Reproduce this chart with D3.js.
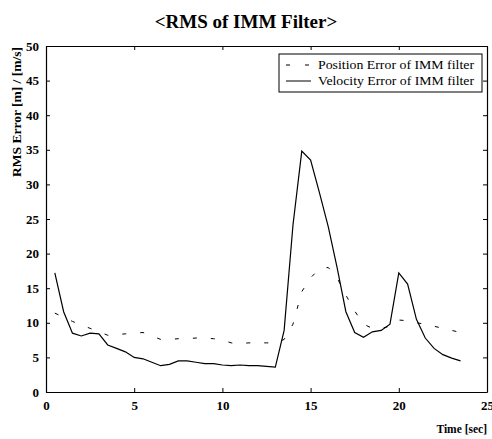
<!DOCTYPE html>
<html><head><meta charset="utf-8">
<script src="https://cdn.jsdelivr.net/npm/d3@7"></script>
<style>body{margin:0;background:#fff}</style>
</head><body>
<svg id="c" width="492" height="439"></svg>
<script>
const times = [0.5,1,1.5,2,2.5,3,3.5,4,4.5,5,5.5,6,6.5,7,7.5,8,8.5,9,9.5,10,10.5,11,11.5,12,12.5,13,13.5,14,14.5,15,15.5,16,16.5,17,17.5,18,18.5,19,19.5,20,20.5,21,21.5,22,22.5,23,23.5];
const positionErr = [11.4,10.8,10.2,9.7,9.2,8.7,8.2,8.3,8.4,8.5,8.6,8.1,7.6,7.6,7.7,7.7,7.8,7.8,7.7,7.5,7.1,7.0,7.1,7.1,7.1,7.1,7.6,9.8,14.5,16.5,17.8,18.0,16.5,14.0,11.7,9.8,9.2,9.2,9.5,10.4,10.3,10.0,9.8,9.5,9.2,8.9,8.6];
const velocityErr = [17.2,11.6,8.5,8.1,8.5,8.4,6.8,6.3,5.8,5.0,4.8,4.3,3.8,4.0,4.5,4.5,4.3,4.1,4.1,3.9,3.8,3.9,3.8,3.8,3.7,3.6,8.9,24.1,34.8,33.5,28.8,23.9,18.0,11.6,8.6,7.9,8.7,8.9,9.8,17.2,15.6,10.5,7.8,6.3,5.4,4.9,4.5];
const xTicks = [0,5,10,15,20,25];
const yTicks = [0,5,10,15,20,25,30,35,40,45,50];
const seriesNames = ["Position Error of IMM filter","Velocity Error of IMM filter"];

const svg = d3.select("#c");
const L=46, R=487, T=46, B=392;
const x = d3.scaleLinear().domain([0,25]).range([L,R]);
const y = d3.scaleLinear().domain([0,50]).range([B,T]);
const serif = "'Liberation Serif','Times New Roman',serif";

svg.append("text").attr("x",246).attr("y",28).attr("text-anchor","middle")
  .attr("font-family",serif).attr("font-weight","bold").attr("font-size",19).text("<RMS of IMM Filter>");

// axes with inward ticks
const gx = svg.append("g").attr("transform",`translate(0,${B})`)
  .call(d3.axisBottom(x).tickValues(xTicks).tickSizeInner(-4).tickSizeOuter(0).tickPadding(9));
const gy = svg.append("g").attr("transform",`translate(${L},0)`)
  .call(d3.axisLeft(y).tickValues(yTicks).tickSizeInner(-4).tickSizeOuter(0).tickPadding(7));
const gt = svg.append("g").attr("transform",`translate(0,${T})`)
  .call(d3.axisTop(x).tickValues(xTicks).tickSizeInner(-4).tickSizeOuter(0).tickFormat(""));
const gr = svg.append("g").attr("transform",`translate(${R},0)`)
  .call(d3.axisRight(y).tickValues(yTicks).tickSizeInner(-4).tickSizeOuter(0).tickFormat(""));
[gx,gy,gt,gr].forEach(g=>{
  g.selectAll("path").attr("stroke","#000").attr("stroke-width",1.2);
  g.selectAll("line").attr("stroke","#000");
  g.selectAll("text").attr("font-family",serif).attr("font-weight","bold").attr("font-size",13).attr("fill","#000");
});

const line = d3.line().x((d,i)=>x(times[i])).y(d=>y(d));
svg.append("path").datum(positionErr).attr("d",line).attr("fill","none")
  .attr("stroke","#000").attr("stroke-width",1).attr("stroke-dasharray","4,14");
svg.append("path").datum(velocityErr).attr("d",line).attr("fill","none")
  .attr("stroke","#000").attr("stroke-width",1.2);

// legend
const lg = svg.append("g");
lg.append("rect").attr("x",279).attr("y",54).attr("width",203).attr("height",38)
  .attr("fill","#fff").attr("stroke","#000").attr("stroke-width",1);
lg.append("line").attr("x1",286).attr("x2",311).attr("y1",65).attr("y2",65)
  .attr("stroke","#000").attr("stroke-dasharray","4,15").attr("stroke-dashoffset",0);
lg.append("line").attr("x1",286).attr("x2",311).attr("y1",81).attr("y2",81).attr("stroke","#000");
lg.selectAll("text.l").data(seriesNames).enter().append("text")
  .attr("x",318).attr("y",(d,i)=>69+i*16).attr("font-family",serif).attr("font-size",13.5)
  .attr("textLength",156).attr("lengthAdjust","spacingAndGlyphs")
  .text(d=>d);

svg.append("text").attr("transform","translate(21,112) rotate(-90)").attr("text-anchor","middle")
  .attr("font-family",serif).attr("font-weight","bold").attr("font-size",13.5).text("RMS Error [m] / [m/s]");
svg.append("text").attr("x",487).attr("y",433).attr("text-anchor","end")
  .attr("font-family",serif).attr("font-weight","bold").attr("font-size",11.5).text("Time [sec]");
</script>
</body></html>
